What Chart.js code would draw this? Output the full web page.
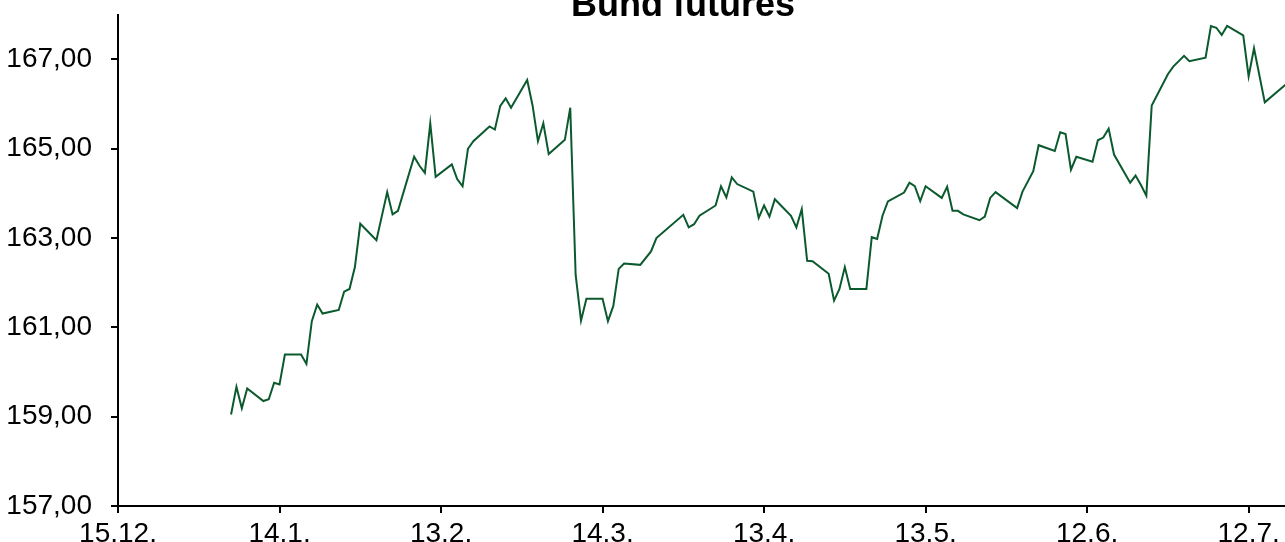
<!DOCTYPE html>
<html>
<head>
<meta charset="utf-8">
<title>Bund futures</title>
<script src="https://cdn.jsdelivr.net/npm/chart.js@4/dist/chart.umd.min.js"></script>
<style>
	body { margin: 0; background: #fff; }
	#wrap { width: 1285px; height: 542px; overflow: hidden; position: relative; }
	#bund-chart { display: block; margin-top: -21px; }
</style>
</head>
<body>
<div id="wrap"><canvas id="bund-chart" width="1366" height="581"></canvas></div>
<script>
// days counted from 15.12.2015
var days = [21,22,23,24,27,28,29,30,31,34,35,36,37,38,41,42,43,44,45,48,50,51,52,
	55,56,57,58,59,62,63,64,65,66,69,70,71,72,73,76,77,78,79,80,83,84,85,86,87,
	90,91,92,93,94,97,99,100,105,106,107,108,111,112,113,114,115,118,119,
	120,121,122,125,126,127,128,129,132,133,134,135,136,139,140,141,142,143,146,147,148,149,150,
	153,154,155,156,157,160,161,162,163,167,168,170,171,174,175,176,177,178,181,182,183,184,185,
	188,189,190,191,192,195,196,198,199,202,203,204,205,206,209,210,211,213,217];
var values = [159.05,159.67,159.19,159.63,159.35,159.39,159.76,159.72,160.39,160.39,160.18,161.14,161.51,161.31,161.39,161.80,161.86,162.35,163.32,162.95,164.03,163.53,163.61,
	164.82,164.62,164.46,165.57,164.37,164.65,164.32,164.16,165.00,165.17,165.50,165.43,165.96,166.13,165.92,166.54,165.97,165.17,165.57,164.88,165.20,165.92,162.18,161.15,161.64,
	161.64,161.14,161.48,162.31,162.43,162.40,162.70,163.00,163.52,163.24,163.31,163.50,163.73,164.16,163.91,164.36,164.21,164.04,163.45,
	163.73,163.48,163.87,163.50,163.24,163.65,162.49,162.48,162.20,161.60,161.86,162.35,161.86,161.86,163.02,162.98,163.50,163.82,164.02,164.24,164.16,163.83,164.16,
	163.90,164.15,163.61,163.61,163.53,163.40,163.48,163.90,164.03,163.67,164.04,164.50,165.08,164.95,165.37,165.33,164.53,164.82,164.71,165.19,165.25,165.45,164.87,
	164.24,164.40,164.19,163.95,165.97,166.67,166.84,167.08,166.96,167.04,167.75,167.71,167.55,167.75,167.54,166.62,167.25,166.04,166.45];

var tickDays = [0,30,60,90,120,150,180,210];
var tickLabels = ['15.12.','14.1.','13.2.','14.3.','13.4.','13.5.','12.6.','12.7.'];
var yTicks = [157,159,161,163,165,167];

var titleText = 'Bund futures';
var font = "'Liberation Sans', Arial, sans-serif";

var titlePlugin = {
	id: 'topTitle',
	afterDraw: function(chart) {
		var ctx = chart.ctx;
		ctx.save();
		ctx.font = 'bold 36px ' + font;
		ctx.fillStyle = '#000';
		ctx.textAlign = 'center';
		ctx.textBaseline = 'alphabetic';
		ctx.fillText(titleText, chart.width / 2, 37);
		ctx.restore();
	}
};

var points = days.map(function(d, i) {
	return { x: d, y: values[i] };
});

new Chart(document.getElementById('bund-chart'), {
	type: 'line',
	data: {
		datasets: [{
			label: titleText,
			data: points,
			borderColor: '#0b5a2e',
			borderWidth: 2,
			pointRadius: 0,
			tension: 0,
			fill: false
		}]
	},
	plugins: [titlePlugin],
	options: {
		responsive: false,
		animation: false,
		layout: { padding: { top: 14, right: 0, left: 0, bottom: 0 } },
		plugins: {
			legend: { display: false },
			title: { display: false },
			tooltip: { enabled: false }
		},
		scales: {
			x: {
				type: 'linear',
				min: 0,
				max: 231.8,
				afterFit: function(scale) { scale.height = 54; },
				afterBuildTicks: function(scale) {
					scale.ticks = tickDays.map(function(v) { return { value: v }; });
				},
				grid: { display: true, drawOnChartArea: false, drawTicks: true, tickLength: 7, color: '#000', lineWidth: 2 },
				border: { display: true, color: '#000', width: 2 },
				ticks: {
					color: '#000',
					padding: 4,
					maxRotation: 0,
					autoSkip: false,
					font: { family: font, size: 28 },
					callback: function(value) {
						var i = tickDays.indexOf(value);
						return i >= 0 ? tickLabels[i] : '';
					}
				}
			},
			y: {
				min: 157,
				max: 168,
				afterFit: function(scale) { scale.width = 118; },
				afterBuildTicks: function(scale) {
					scale.ticks = yTicks.map(function(v) { return { value: v }; });
				},
				grid: { display: true, drawOnChartArea: false, drawTicks: true, tickLength: 7, color: '#000', lineWidth: 2 },
				border: { display: true, color: '#000', width: 2 },
				ticks: {
					color: '#000',
					padding: 19,
					font: { family: font, size: 28 },
					callback: function(value) {
						return value.toFixed(2).replace('.', ',');
					}
				}
			}
		}
	}
});
</script>
</body>
</html>
